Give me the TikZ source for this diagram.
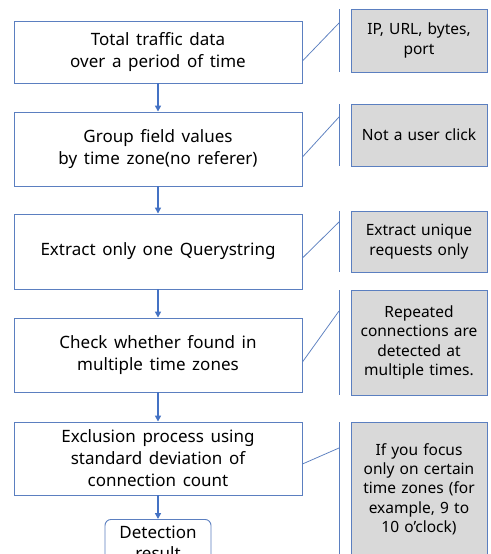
\documentclass[tikz,border=0pt]{standalone}
\usepackage{fontspec}
\setmainfont{Noto Sans}
\newfontfamily\stepfont[WordSpace=1.5]{Noto Sans}
\usetikzlibrary{arrows.meta}
\definecolor{bord}{HTML}{5B7FC0}
\definecolor{arr}{HTML}{4472C4}
\definecolor{grayfill}{HTML}{D9D9D9}
\begin{document}
\begin{tikzpicture}[x=1pt,y=-1pt,
  stepbox/.style={draw=bord,line width=0.9pt,fill=white,minimum width=288pt,inner sep=0pt,align=center,font=\stepfont\fontsize{17}{22}\selectfont},
  notebox/.style={draw=bord,line width=0.9pt,fill=grayfill,minimum width=136pt,text width=132pt,inner sep=0pt,align=center,font=\fontsize{15.5}{19.3}\selectfont},
  flow/.style={draw=arr,line width=1.8pt,-{Triangle[length=6pt,width=6pt]}},
  brk/.style={draw=bord,line width=0.75pt}]
\clip (0,0) rectangle (490,554);
\fill[white] (0,0) rectangle (490,554);
% main boxes
\node[stepbox,minimum height=62pt] (b1) at (158,52) {Total traffic data\\over a period of time};
\node[stepbox,minimum height=74pt] (b2) at (158,149) {Group field values\\by time zone(no referer)};
\node[stepbox,minimum height=75pt] (b3) at (158,251.5) {Extract only one Querystring};
\node[stepbox,minimum height=74pt] (b4) at (158,355) {Check whether found in\\multiple time zones};
\node[stepbox,minimum height=73pt] (b5) at (158,458.5) {Exclusion process using\\standard deviation of\\connection count};
\node[draw=bord,line width=0.9pt,rounded corners=6pt,minimum width=106pt,minimum height=50pt,inner sep=0pt,align=center,font=\stepfont\fontsize{17}{21}\selectfont,anchor=north] (res) at (158,519) {\raisebox{11pt}{\begin{tabular}{c}Detection\\result\end{tabular}}};
% notes
\node[notebox,minimum height=63pt] (n1) at (419,40.5) {IP, URL, bytes,\\port};
\node[notebox,minimum height=62pt] (n2) at (419,135) {Not a user click};
\node[notebox,minimum height=61pt] (n3) at (419,241.5) {Extract unique\\requests only};
\node[notebox,minimum height=105pt] (n4) at (419,342.5) {Repeated\\connections are\\detected at\\multiple times.};
\node[notebox,minimum height=134pt] (n5) at (419,489) {If you focus\\only on certain\\time zones (for\\example, 9 to\\10 o'clock)};
% arrows
\draw[flow] (b1.south) -- (b2.north);
\draw[flow] (b2.south) -- (b3.north);
\draw[flow] (b3.south) -- (b4.north);
\draw[flow] (b4.south) -- (b5.north);
\draw[flow] (b5.south) -- (res.north);
% brackets
\coordinate (t1) at (339,9); \coordinate (u1) at (339,72); \coordinate (k1) at (339,23);
\coordinate (t2) at (339,104); \coordinate (u2) at (339,166); \coordinate (k2) at (339,117);
\coordinate (t3) at (339,211); \coordinate (u3) at (339,272); \coordinate (k3) at (339,222);
\coordinate (t4) at (339,290); \coordinate (u4) at (339,395); \coordinate (k4) at (339,311);
\coordinate (t5) at (339,422); \coordinate (u5) at (339,560); \coordinate (k5) at (339,448);
\draw[brk] (t1) -- (u1); \draw[brk] (b1.east |- 0,61) -- (k1);
\draw[brk] (t2) -- (u2); \draw[brk] (b2.east |- 0,157) -- (k2);
\draw[brk] (t3) -- (u3); \draw[brk] (b3.east |- 0,258) -- (k3);
\draw[brk] (t4) -- (u4); \draw[brk] (b4.east |- 0,362) -- (k4);
\draw[brk] (t5) -- (u5); \draw[brk] (b5.east |- 0,464) -- (k5);
\end{tikzpicture}
\end{document}
